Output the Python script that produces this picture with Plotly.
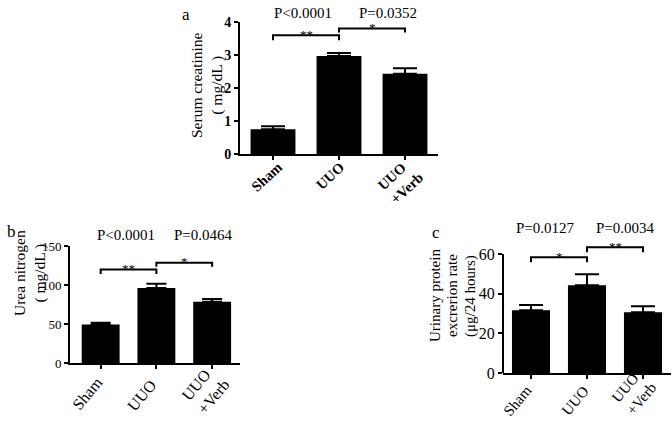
import plotly.graph_objects as go

# ---------------- data ----------------
categories = ["Sham", "UUO", "UUO<br>+Verb"]

creatinine = [0.75, 2.97, 2.43]
creatinine_err = [0.09, 0.09, 0.17]

urea = [49.5, 96.0, 78.5]
urea_err = [2.0, 5.5, 3.5]

protein = [31.6, 44.2, 30.6]
protein_err = [2.6, 5.6, 3.0]

# significance brackets: (from index, to index, height, tick drop, stars)
brackets_a = [(0, 1, 3.6, 0.15, "**"), (1, 2, 3.8, 0.12, "*")]
brackets_b = [(0, 1, 120, 6, "**"), (1, 2, 128.5, 5, "*")]
brackets_c = [(0, 1, 58.3, 2.5, "*"), (1, 2, 63.3, 2.5, "**")]

pvals_a = ["P<0.0001", "P=0.0352"]
pvals_b = ["P<0.0001", "P=0.0464"]
pvals_c = ["P=0.0127", "P=0.0034"]

# ---------------- layout helpers ----------------
W, H = 672, 421
FONT = "Liberation Serif"


def fx(p):
    return p / W


def fy(p):
    return 1 - p / H


fig = go.Figure()

panels = [
    dict(v=creatinine, e=creatinine_err, xa="x", ya="y", xd=(240, 438), yd=(22, 154),
         rng=[0, 4], tv=[0, 1, 2, 3, 4], tfont=dict(family=FONT, size=14, color="black", weight="bold"),
         cfont=dict(family=FONT, size=14.5, color="black", weight="bold"), br=brackets_a, xr=[-0.5, 2.5],
         line=True, ew=12, angle=-43,
         # label bbox centre offsets (dx px from tick, dy px below axis)
         lab=[(-6.5, 23), (-9, 22), (-5, 27)]),
    dict(v=urea, e=urea_err, xa="x2", ya="y2", xd=(70, 240), yd=(246, 363),
         rng=[0, 150], tv=[0, 50, 100, 150], tfont=dict(family=FONT, size=13, color="black"),
         cfont=dict(family=FONT, size=16, color="black"), br=brackets_b, xr=[-0.55, 2.5],
         line=True, ew=10, angle=-50,
         lab=[(-13.5, 30.5), (-15, 32), (-6.5, 27)]),
    dict(v=protein, e=protein_err, xa="x3", ya="y3", xd=(503, 671), yd=(242, 373),
         rng=[0, 66], tv=[0, 20, 40, 60], tfont=dict(family=FONT, size=16, color="black"),
         cfont=dict(family=FONT, size=15, color="black"), br=brackets_c, xr=[-0.5, 2.5],
         line=False, ew=12, angle=-50,
         lab=[(-14, 27.5), (-12, 28), (-9, 20)]),
]

shapes = []
annotations = []

for i, p in enumerate(panels):
    fig.add_trace(go.Bar(
        x=list(range(len(categories))), y=p["v"], xaxis=p["xa"], yaxis=p["ya"],
        width=0.68, marker=dict(color="black", line=dict(width=0)),
        error_y=dict(type="data", array=p["e"], symmetric=False, arrayminus=[0] * len(p["e"]),
                     color="black", thickness=2, width=p["ew"]),
        showlegend=False, hoverinfo="skip",
    ))
    xkey = "xaxis" if i == 0 else f"xaxis{i + 1}"
    ykey = "yaxis" if i == 0 else f"yaxis{i + 1}"
    fig.update_layout({
        xkey: dict(domain=[fx(p["xd"][0]), fx(p["xd"][1])], anchor=p["ya"], range=p["xr"],
                   tickvals=list(range(len(categories))), showticklabels=False,
                   showline=True, linecolor="black", linewidth=2, ticks="outside",
                   ticklen=4, tickwidth=2, tickcolor="black",
                   showgrid=False, zeroline=False, fixedrange=True, automargin=False),
        ykey: dict(domain=[fy(p["yd"][1]), fy(p["yd"][0])], anchor=p["xa"], range=p["rng"],
                   tickvals=p["tv"], showline=p["line"], linecolor="black", linewidth=2,
                   ticks="outside", ticklen=4, tickwidth=2, tickcolor="black",
                   tickfont=p["tfont"], showgrid=False, zeroline=False, fixedrange=True,
                   automargin=False),
    })
    if not p["line"]:
        shapes.append(dict(type="line", xref=p["xa"] + " domain", yref=p["ya"], x0=0, x1=0,
                           y0=p["tv"][0], y1=p["tv"][-1], line=dict(color="black", width=2)))
    for (a, b, h, d, s) in p["br"]:
        shapes.append(dict(type="path", xref=p["xa"], yref=p["ya"],
                           path=f"M {a},{h - d} L {a},{h} L {b},{h} L {b},{h - d}",
                           line=dict(color="black", width=2)))
        annotations.append(dict(xref=p["xa"], yref=p["ya"], x=(a + b) / 2, y=h, text=s,
                                showarrow=False, yanchor="middle", xanchor="center",
                                yshift=1, font=dict(family=FONT, size=13, color="black")))
    # category labels, rotated, positioned below each tick
    for k, cat in enumerate(categories):
        dx, dy = p["lab"][k]
        annotations.append(dict(xref=p["xa"], yref="paper", x=k, y=fy(p["yd"][1] + dy),
                                xshift=dx, text=cat, showarrow=False, textangle=p["angle"],
                                xanchor="center", yanchor="middle", align="left",
                                font=p["cfont"]))

fig.update_layout(shapes=shapes)


def ann(x, y, text, size=15, angle=0, weight="normal"):
    annotations.append(dict(xref="paper", yref="paper", x=fx(x), y=fy(y), text=text,
                            showarrow=False, xanchor="center", yanchor="middle",
                            textangle=angle,
                            font=dict(family=FONT, size=size, color="black", weight=weight)))


ann(186, 14, "a", 17)
ann(11, 232, "b", 17)
ann(436, 233, "c", 17)

ann(303, 13, pvals_a[0], 15)
ann(388, 13, pvals_a[1], 15)
ann(126, 235, pvals_b[0], 15)
ann(204, 235, pvals_b[1], 15)
ann(545, 228, pvals_c[0], 15)
ann(625, 228, pvals_c[1], 15)

ann(207, 85, "Serum creatinine<br>( mg/dL )", 15.5, -90)
ann(30, 273, "Urea nitrogen<br>( mg/dL )", 15.5, -90)
ann(435, 296, "Urinary protein", 15, -90)
ann(452, 296, "excrerion rate", 15, -90)
ann(470, 296, "(μg/24 hours)", 15, -90)

fig.update_layout(
    annotations=annotations,
    width=W, height=H, autosize=False,
    margin=dict(l=0, r=0, t=0, b=0, pad=0, autoexpand=False),
    paper_bgcolor="white", plot_bgcolor="white",
    font=dict(family=FONT, color="black"),
    bargap=0.3,
)

fig.write_html(
    "out.html",
    config={"displayModeBar": False},
    post_script="document.body.style.margin='0';document.body.style.overflow='hidden';",
)
